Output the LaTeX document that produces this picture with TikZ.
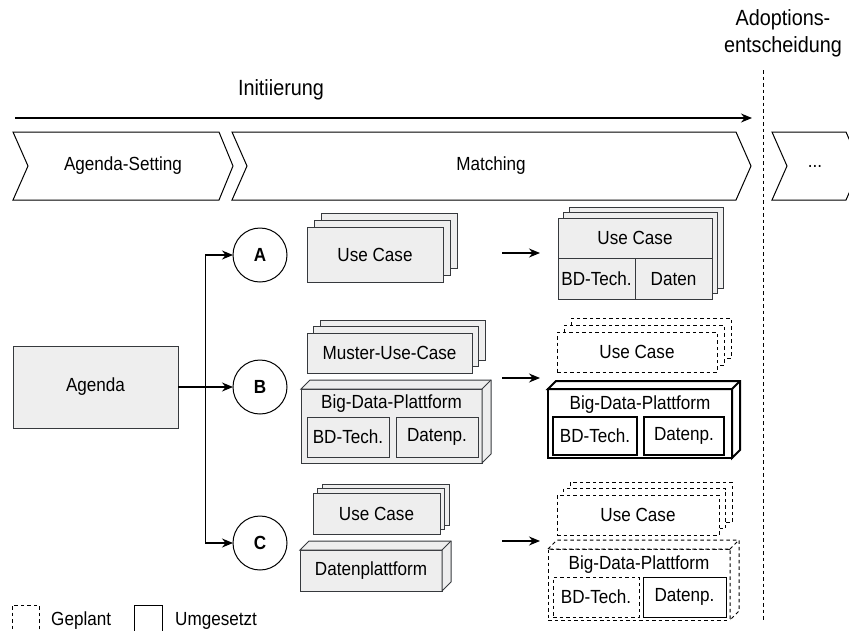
\documentclass[tikz,border=0pt]{standalone}
\usepackage{fontspec}
\setmainfont{Liberation Sans}[FakeStretch=0.9]
\usetikzlibrary{arrows.meta,calc,shadows}
\definecolor{Card}{HTML}{EEEEEE}
\definecolor{Edge}{HTML}{36393D}
% top and side faces of a box drawn as cube
\newcommand\cubefaces[3]{%
  \draw[#3] (#1.north west) -- ++(#2,-#2) -- ([shift={(#2,-#2)}]#1.north east)
    -- ([shift={(#2,-#2)}]#1.south east) -- (#1.south east) -- (#1.north east) -- cycle;
  \draw[#3] (#1.north east) -- ++(#2,-#2);}

\begin{document}
\begin{tikzpicture}[x=1pt,y=-1pt,font=\fontsize{19}{22}\selectfont,
    phase/.style={draw,line width=1pt,fill=white},
    flow/.style={-{Stealth[length=11pt,width=9pt]},line width=1.2pt},
    card/.style={draw=Edge,fill=Card,line width=1pt,outer sep=0pt,inner sep=0pt},
    plan/.style={draw,fill=white,line width=1pt,dash pattern=on 3.5pt off 3pt,outer sep=0pt,inner sep=0pt},
    done/.style={draw,fill=white,line width=1pt,outer sep=0pt,inner sep=0pt},
    stack/.style 2 args={copy shadow={shadow xshift=#2,shadow yshift=#2},copy shadow={shadow xshift=#1,shadow yshift=#1}},
    sz/.style 2 args={minimum width=#1,minimum height=#2}]
  \useasboundingbox (0,0) rectangle (849,630);

  % phases
  \node[font=\fontsize{22}{27}\selectfont,align=center] (adopt) at (783,33) {Adoptions-\\entscheidung};
  \node[font=\fontsize{22}{26}\selectfont] (init) at (281,90) {Initiierung};
  \coordinate (i1) at (15,118); \coordinate (i2) at (752,118);
  \draw[flow] (i1) -- (i2);
  \coordinate (d1) at (763,70); \coordinate (d2) at (763,622);
  \draw[line width=1pt,dash pattern=on 3.5pt off 3pt] (d1) -- (d2);
  \draw[phase] (13,132) -- (219,132) -- (233,166) -- (219,200) -- (13,200) -- (28,166) -- cycle;
  \node (agset) at (123,166) {Agenda-Setting};
  \draw[phase] (232,132) -- (736,132) -- (751,166) -- (736,200) -- (232,200) -- (247,166) -- cycle;
  \node (match) at (491,166) {Matching};
  \draw[phase] (772,132) -- (846,132) -- (861,166) -- (846,200) -- (772,200) -- (787,166) -- cycle;
  \node (more) at (815,166) {...};

  % agenda and paths
  \node[card,sz={165pt}{82pt}] (agenda) at (95.5,387) {Agenda};
  \foreach \c/\y in {A/255,B/387,C/543}
    \node[circle,draw,line width=1pt,fill=white,minimum size=54pt,inner sep=0pt,outer sep=0pt,font=\fontsize{19}{22}\selectfont\bfseries] (circ\c) at (260,\y) {\c};
  \coordinate (split) at ($(agenda.east)!.5!(circB.west)$);
  \draw[flow] (agenda) -- (circB);
  \draw[flow] (split) |- (circA);
  \draw[flow] (split) |- (circC);

  % matching input
  \node[card,stack={7pt}{14pt},sz={136pt}{55pt}] (ucA) at (375,254.5) {Use Case};
  \node[card,stack={6.5pt}{13pt},sz={165pt}{40pt}] (mucB) at (389.5,353) {Muster-Use-Case};
  \node[card,sz={181pt}{74pt}] (bdpB) at (391.5,426) {};
  \cubefaces{bdpB}{9}{card}
  \node (bdpBt) at (391.5,404) {Big-Data-Plattform};
  \node[card,sz={82pt}{40pt}] (techB) at (348,437) {BD-Tech.};
  \node[card,sz={82pt}{40pt}] (datB) at (437,437) {Datenp.};
  \node[card,stack={4.5pt}{9pt},sz={127pt}{41pt}] (ucC) at (376.5,513.5) {Use Case};
  \node[card,sz={142pt}{41pt}] (dpC) at (371,570.5) {Datenplattform};
  \cubefaces{dpC}{9}{card}

  \foreach \r/\y in {A/253,B/378,C/541}{
    \coordinate (go\r) at (502,\y); \coordinate (to\r) at (540,\y);
    \draw[flow] (go\r) -- (to\r);}

  % matching output
  \node[card,stack={5.5pt}{11pt},sz={154pt}{81pt}] (resA) at (635,258.5) {};
  \draw[Edge,line width=1pt] (resA.west) -- (resA.east) (resA.center) -- (resA.south);
  \node (ucA2) at ($(resA.north)!.5!(resA.center)$) {Use Case};
  \node (techA2) at ($(resA.south west)!.5!(resA.center)$) {BD-Tech.};
  \node (datA2) at ($(resA.south east)!.5!(resA.center)$) {Daten};

  \node[plan,stack={7pt}{14pt},sz={160pt}{40pt}] (ucB2) at (637,352) {Use Case};
  \node[done,line width=2pt,sz={184pt}{69pt}] (bdpB2) at (640,423.5) {};
  \cubefaces{bdpB2}{8}{done,line width=2pt}
  \node (bdpB2t) at (640,405) {Big-Data-Plattform};
  \node[done,line width=1.5pt,sz={84pt}{38pt}] (techB2) at (595,436) {BD-Tech.};
  \node[done,line width=1.5pt,sz={80pt}{38pt}] (datB2) at (684,436) {Datenp.};

  \node[plan,stack={6.5pt}{13pt},sz={162pt}{40pt}] (ucC2) at (638,515) {Use Case};
  \node[plan,sz={182pt}{71pt}] (bdpC2) at (639,584.5) {};
  \cubefaces{bdpC2}{9}{plan}
  \node (bdpC2t) at (639,565) {Big-Data-Plattform};
  \node[plan,sz={86pt}{40pt}] (techC2) at (596,597) {BD-Tech.};
  \node[done,sz={83pt}{40pt}] (datC2) at (684.5,597) {Datenp.};

  % legend
  \node[plan,fill=none,sz={27pt}{36pt}] (legP) at (25.5,623) {};
  \node[anchor=base west,inner sep=0pt] (legPt) at (51,625) {Geplant};
  \node[done,fill=none,sz={28pt}{36pt}] (legD) at (148,623) {};
  \node[anchor=base west,inner sep=0pt] (legDt) at (175,625) {Umgesetzt};
\end{tikzpicture}
\end{document}
